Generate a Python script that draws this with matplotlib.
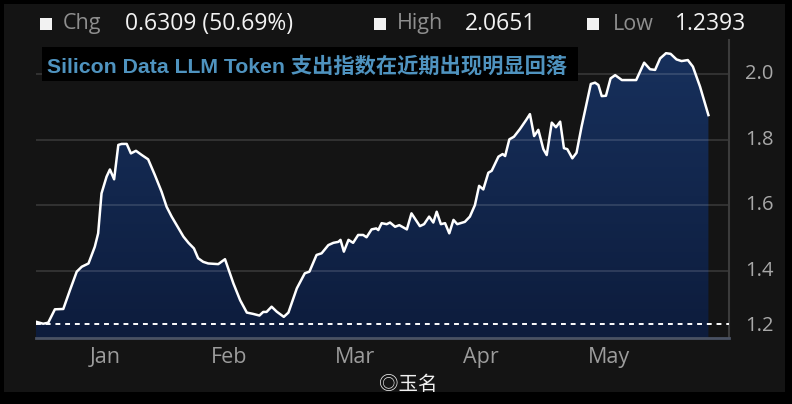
import numpy as np
import matplotlib.pyplot as plt
from matplotlib.patches import Rectangle
from matplotlib.colors import LinearSegmentedColormap

# Данные индекса (день от начала периода, значение)
days = [0.0, 1.7, 2.9, 4.5, 6.5, 8.1, 9.7, 10.9, 12.5, 14.0, 14.8, 15.6, 16.8, 17.6,
        18.6, 19.6, 20.4, 21.6, 22.6, 23.8, 25.2, 26.7, 28.3, 29.9, 31.1, 32.3, 33.5,
        35.1, 36.3, 37.6, 38.6, 39.8, 41.0, 43.4, 45.0, 47.0, 48.6, 50.2, 51.7, 53.2,
        54.1, 54.9, 56.1, 57.3, 59.0, 60.1, 62.1, 64.0, 65.1, 66.8, 68.0, 69.6, 70.8,
        72.0, 72.5, 73.3, 74.4, 75.5, 76.7, 77.9, 78.7, 79.9, 81.0, 81.5, 82.3, 83.5,
        84.3, 85.5, 86.5, 88.3, 89.4, 91.4, 92.4, 93.6, 94.6, 95.4, 96.4, 97.4, 98.4,
        99.4, 100.3, 102.1, 103.3, 104.5, 105.5, 106.5, 107.7, 108.5, 110.1, 111.1,
        111.7, 112.7, 113.8, 115.2, 116.7, 117.6, 118.6, 119.6, 120.8, 121.6, 122.8,
        123.8, 124.8, 125.7, 126.5, 127.7, 128.7, 129.9, 131.1, 132.1, 133.1, 133.9,
        134.7, 135.7, 136.8, 137.9, 139.5, 141.4, 142.9, 144.8, 146.2, 147.4, 148.6,
        150.0, 151.1, 152.5, 153.7, 155.2, 156.4, 158.1, 160.1]
index_vals = [1.245, 1.239, 1.242, 1.283, 1.284, 1.342, 1.398, 1.413, 1.423, 1.474,
              1.515, 1.637, 1.688, 1.710, 1.680, 1.785, 1.788, 1.788, 1.759, 1.767,
              1.754, 1.741, 1.693, 1.642, 1.596, 1.566, 1.540, 1.505, 1.486, 1.469,
              1.439, 1.428, 1.423, 1.421, 1.436, 1.362, 1.311, 1.273, 1.269, 1.264,
              1.275, 1.275, 1.291, 1.276, 1.260, 1.273, 1.347, 1.393, 1.398, 1.449,
              1.454, 1.479, 1.486, 1.489, 1.495, 1.459, 1.495, 1.486, 1.510, 1.510,
              1.503, 1.527, 1.530, 1.525, 1.546, 1.543, 1.548, 1.535, 1.540, 1.527,
              1.576, 1.537, 1.543, 1.566, 1.548, 1.581, 1.543, 1.546, 1.515, 1.556,
              1.543, 1.550, 1.566, 1.601, 1.660, 1.649, 1.700, 1.706, 1.749, 1.757,
              1.751, 1.802, 1.810, 1.833, 1.861, 1.879, 1.812, 1.831, 1.772, 1.754,
              1.853, 1.839, 1.856, 1.775, 1.772, 1.744, 1.761, 1.841, 1.912, 1.971,
              1.975, 1.968, 1.934, 1.935, 1.988, 1.998, 1.983, 1.983, 1.983, 2.036,
              2.016, 2.014, 2.049, 2.065, 2.063, 2.046, 2.041, 2.044, 2.024, 1.963,
              1.876]

month_pos = [16.4, 46.0, 76.0, 106.0, 136.4]
month_labels = ['Jan', 'Feb', 'Mar', 'Apr', 'May']
y_ticks = [1.2, 1.4, 1.6, 1.8, 2.0]

chg = 0.6309
chg_pct = 50.69
high = 2.0651
low = 1.2393

title = 'Silicon Data LLM Token 支出指数在近期出现明显回落'

Y_MIN = 1.1954
Y_MAX = 2.1053
X_MAX = 165

W, H = 792, 404

fig = plt.figure(figsize=(W / 100, H / 100), dpi=100, facecolor='black')

# Серая панель внутри чёрной рамки
fig.add_artist(Rectangle((4 / W, 12 / H), 781 / W, 388 / H, transform=fig.transFigure,
                         facecolor='#141414', edgecolor='none', zorder=0))

ax = fig.add_axes([36 / W, 1 - 338 / H, (729 - 36) / W, (338 - 40) / H])
ax.set_facecolor('none')

# Заливка под линией с градиентом
poly = ax.fill_between(days, index_vals, Y_MIN, color='none', lw=0)
cmap = LinearSegmentedColormap.from_list('navy', ['#0d1c3c', '#17305c'])
grad = np.linspace(0, 1, 256).reshape(-1, 1)
img = ax.imshow(grad, extent=[0, days[-1], Y_MIN, max(index_vals)], origin='lower',
                aspect='auto', cmap=cmap, zorder=1)
img.set_clip_path(poly.get_paths()[0], transform=ax.transData)

for v in y_ticks[1:]:
    ax.axhline(v, color='white', alpha=0.13, lw=1.4, zorder=2)

ax.axhline(low, color='white', ls=(0, (2.5, 2.5)), lw=1.4, zorder=3)
ax.plot(days, index_vals, color='white', lw=1.8, zorder=4)

ax.set_xlim(0, X_MAX)
ax.set_ylim(Y_MIN, Y_MAX)
ax.set_xticks([])
ax.set_yticks([])
for s in ['top', 'left']:
    ax.spines[s].set_visible(False)
ax.spines['bottom'].set_color('#4a5263')
ax.spines['bottom'].set_linewidth(2)
ax.spines['right'].set_color('#3c3c3c')
ax.spines['right'].set_linewidth(1.5)

# Подписи оси Y справа
for v in y_ticks:
    yy = v + 0.032 if v == 1.2 else v
    ax.text(1.023, yy, f'{v:.1f}', transform=ax.get_yaxis_transform(), ha='left',
            va='center', color='#a8a8a8', fontsize=14.5, family='Open Sans')

# Подписи месяцев
for p, lab in zip(month_pos, month_labels):
    ax.text(p, -0.067, lab, transform=ax.get_xaxis_transform(), ha='center',
            va='center', color='#9c9c9c', fontsize=15.5, family='Open Sans')

# Шапка
hy = 1 - 24 / H
items = [(40, 63, 125, 'Chg', f'{chg:.4f} ({chg_pct:.2f}%)'),
         (374, 397, 465, 'High', f'{high:.4f}'),
         (587, 613, 675, 'Low', f'{low:.4f}')]
for sq, lx, vx, lab, val in items:
    fig.add_artist(Rectangle((sq / W, 1 - 30 / H), 12 / W, 12 / H,
                             transform=fig.transFigure, facecolor='#f2f2f2',
                             edgecolor='none', zorder=5))
    fig.text(lx / W, hy, lab, color='#8e8e8e', fontsize=15.5, family='Open Sans',
             va='center', ha='left')
    fig.text(vx / W, hy, val, color='#f2f2f2', fontsize=16.5, family='Open Sans',
             va='center', ha='left')

# Заголовок в чёрной плашке
fig.add_artist(Rectangle((42 / W, 1 - 81 / H), 536 / W, 34 / H, transform=fig.transFigure,
                         facecolor='black', edgecolor='none', zorder=5))
fig.text(47 / W, 1 - 66 / H, title, color='#4f93bf', fontsize=15.3, fontweight='bold',
         family=['Liberation Sans', 'Noto Sans CJK SC'], va='center', ha='left', zorder=6)

# Водяной знак
fig.text(408 / W, 1 - 385 / H, '◎玉名', color='#f0f0f0', fontsize=14,
         family=['Noto Sans CJK SC', 'DejaVu Sans'], va='center', ha='center', zorder=6)

fig.savefig('out.png', dpi=100, facecolor=fig.get_facecolor())
